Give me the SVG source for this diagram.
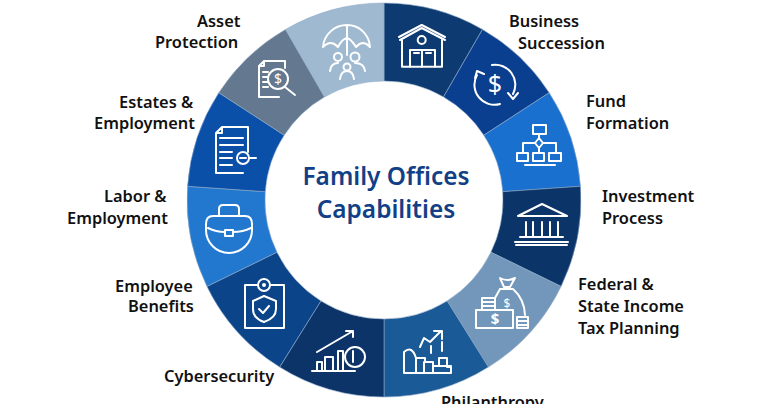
<svg xmlns="http://www.w3.org/2000/svg" width="768" height="404" viewBox="0 0 768 404">
<style>
.seg{stroke:#8fa9c8;stroke-width:.6}
.i{fill:none;stroke:#fff;stroke-width:2;stroke-linecap:round;stroke-linejoin:round}
.d{fill:#fff;font-family:"Noto Sans","Liberation Sans",sans-serif;font-weight:400;text-anchor:middle}
.l{fill:#111;font-family:"Noto Sans","Liberation Sans",sans-serif;font-weight:600;font-size:16.400px}
.t{fill:#123f85;font-family:"Noto Sans","Liberation Sans",sans-serif;font-weight:600;font-size:24.400px;text-anchor:middle}
</style>
<rect width="768" height="404" fill="#fff"/>
<g id="business-succession-house">
<path class="seg" fill="#0d3a70" d="M384 3A197 197 0 0 1 482.500 29.400L443.500 96.900A119 119 0 0 0 384 81Z"/>
<path class="i" d="M400 40L421.700 28L445 40M399 37L421.700 25L445 37M402 40V66.700H442V40M410 67V50H435V67M422 50V67M414 53h5M426 53h5"/><circle class="i" cx="421.700" cy="40" r="4"/>
</g>
<g id="business-succession">
<path class="seg" fill="#0a3f8f" d="M482.500 29.400A197 197 0 0 1 549.200 92.700L483.800 135.200A119 119 0 0 0 443.500 96.900Z"/>
<path class="i" d="M477 75A20 20 0 0 0 500 104M513 94A20 20 0 0 0 492 65M475 78l2-7 7 3M508 93l5 6 5-6"/>
<text class="d" x="495" y="93" font-size="25">$</text>
</g>
<g id="fund-formation">
<path class="seg" fill="#1a70cf" d="M549.200 92.700A197 197 0 0 1 580.500 186.300L502.700 191.700A119 119 0 0 0 483.800 135.200Z"/>
<path class="i" d="M533 125h13v9h-13zM517 153h11v8h-11zM533 153h11v8h-11zM549 153h12v8h-12zM525 165h30M539 134v4M539 138l4 5-4 5-4-5zM535 143h-12v10M543 143h13v10M539 148v5"/>
</g>
<g id="investment-process">
<path class="seg" fill="#0b3469" d="M580.500 186.300A197 197 0 0 1 561.100 286.400L490.900 252.200A119 119 0 0 0 502.700 191.700Z"/>
<path class="i" d="M518 216L542 204L567 216ZM526 222V236M533 222V236M542 222V236M550 222V236M558 222V236M520 237H563M515 242H568M516 245H567"/>
</g>
<g id="tax-planning">
<path class="seg" fill="#7397bb" d="M561.100 286.400A197 197 0 0 1 488.400 367.100L447.100 300.900A119 119 0 0 0 490.900 252.200Z"/>
<path class="i" d="M476 310h37v18h-37zM482 298h13v12h-13zM482 302h13M482 306h13M517 317h11v11h-11zM517 321h11M517 325h11M500 289L495 298M513 289C520 295 525 305 525 315M500 278L504 287H510L515 278Q507 282 500 278ZM500 289H513"/>
<text class="d" style="font-weight:700" x="495" y="324" font-size="15">$</text><text class="d" x="507" y="308" font-size="12">$</text>
</g>
<g id="philanthropy">
<path class="seg" fill="#1a5a96" d="M488.400 367.100A197 197 0 0 1 384 397V319A119 119 0 0 0 447.100 300.900Z"/>
<path class="i" d="M404 373V352Q412 345 416 358H425V362H433V366H439V358H447V367H451V373ZM416 358V373M424 362V373M433 366V373M439 366H451M420 347L424 338L430 342L441 331M434 331h8v8M431 346v7M442 342v9"/>
</g>
<g id="cybersecurity">
<path class="seg" fill="#0c3468" d="M384 397A197 197 0 0 1 279.600 367.100L320.900 300.900A119 119 0 0 0 384 319Z"/>
<path class="i" d="M317 352L353 331M346 331h7v6M312 371H355M317 371V362H322V371M325 371V357H333V371M338 371V351H343V371M353 351V362"/><circle class="i" cx="355" cy="357" r="10"/>
</g>
<g id="employee-benefits">
<path class="seg" fill="#0b4488" d="M279.600 367.100A197 197 0 0 1 206.900 286.400L277 252.200A119 119 0 0 0 320.900 300.900Z"/>
<path class="i" d="M258 285H245V328H284V285H270M264 296L276 301V309C276 316 270 320 264 322C258 320 253 316 253 309V301ZM259 309L263 313L269 306"/><circle class="i" cx="264" cy="285" r="6"/><circle cx="264" cy="285" r="2" fill="#fff"/>
</g>
<g id="labor-employment">
<path class="seg" fill="#2278cf" d="M206.900 286.400A197 197 0 0 1 187.500 186.300L265.300 191.700A119 119 0 0 0 277 252.200Z"/>
<path class="i" d="M219 216V209Q219 205 223 205H235Q239 205 239 209V216M213 216H245Q252 216 252 224V230A23 23 0 0 1 206 230V224Q206 216 213 216ZM208 228Q216 232 225 232M233 232Q243 232 251 228M225 230h8v6h-8z"/>
</g>
<g id="estates-employment">
<path class="seg" fill="#0a4fa8" d="M187.500 186.300A197 197 0 0 1 218.800 92.700L284.200 135.200A119 119 0 0 0 265.300 191.700Z"/>
<path class="i" d="M222 127H248V152M216 133V173H243M216 133L222 127V133ZM220 138H243M220 145H243M220 152H232M220 158H232M220 165H232M249 158H256M240 158h6"/><circle class="i" cx="243" cy="158" r="6"/>
</g>
<g id="asset-protection">
<path class="seg" fill="#64788f" d="M218.800 92.700A197 197 0 0 1 285.500 29.400L324.500 96.900A119 119 0 0 0 284.200 135.200Z"/>
<path class="i" d="M264 61H285V68M259 66V97H279M259 66L264 61V66ZM263 72h5M263 77h5M263 82h5M263 87h5M285 87L295 95"/><circle class="i" cx="278" cy="79" r="10"/>
<text class="d" x="278" y="84" font-size="14">$</text>
</g>
<g id="umbrella">
<path class="seg" fill="#9fbad0" d="M285.500 29.400A197 197 0 0 1 384 3V81A119 119 0 0 0 324.500 96.900Z"/>
<path class="i" d="M323 47C324 34 335 25 347 25C359 25 369 34 370 47Q363 39 356 47Q351 39 347 38Q342 39 338 47Q331 39 323 47ZM347 25V55M330 71Q331 63 338 63M355 63Q364 63 365 71M340 79Q341 71 347 71Q353 71 354 79"/>
<circle class="i" cx="338" cy="57" r="4"/><circle class="i" cx="355" cy="57" r="4.500"/><circle class="i" cx="347" cy="67" r="3.500"/>
</g>
<g id="center">
<text class="t" x="386" y="185">Family Offices</text>
<text class="t" x="386" y="218">Capabilities</text>
</g>
<g id="labels">
<text class="l" x="197" y="27">Asset</text>
<text class="l" x="155" y="48">Protection</text>
<text class="l" x="509" y="27">Business</text>
<text class="l" x="518" y="49">Succession</text>
<text class="l" x="586" y="107">Fund</text>
<text class="l" x="586" y="129">Formation</text>
<text class="l" x="602" y="202">Investment</text>
<text class="l" x="602" y="224">Process</text>
<text class="l" x="578" y="290">Federal &amp;</text>
<text class="l" x="578" y="312">State Income</text>
<text class="l" x="578" y="334">Tax Planning</text>
<text class="l" x="441" y="408">Philanthropy</text>
<text class="l" x="164" y="382">Cybersecurity</text>
<text class="l" x="115" y="292">Employee</text>
<text class="l" x="128" y="312">Benefits</text>
<text class="l" x="104" y="202">Labor &amp;</text>
<text class="l" x="67" y="224">Employment</text>
<text class="l" x="119" y="108">Estates &amp;</text>
<text class="l" x="94" y="129">Employment</text>
</g>
</svg>
